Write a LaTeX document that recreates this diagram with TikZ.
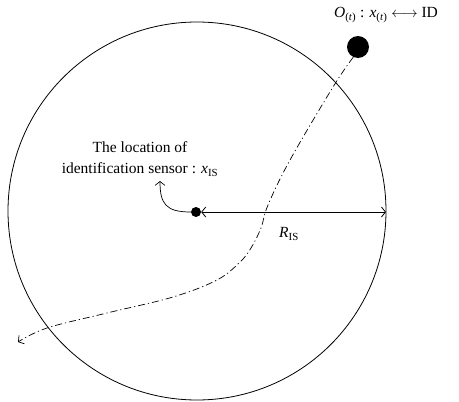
\documentclass[tikz,border=0pt]{standalone}
\usepackage{fontspec}
\setmainfont{Liberation Serif}
\usetikzlibrary{arrows.meta,positioning}
\newcommand{\vsub}[2]{\textit{#1}\textsubscript{#2}}

\begin{document}
\begin{tikzpicture}[x=1pt,y=-1pt,font=\fontsize{15.5}{21}\selectfont,
  barb/.style={-{Straight Barb[length=4pt,width=10pt]}},
  bothbarb/.style={{Straight Barb[length=4pt,width=10pt]}-{Straight Barb[length=4pt,width=10pt]}},
  track/.style={dash pattern=on 7pt off 3pt on 1.2pt off 3pt}]
\useasboundingbox(0,0)rectangle(459,402);
% sensing area
\draw[line width=0.8pt](197,211)circle(189pt);
\node[circle,fill,inner sep=0pt,minimum size=10pt](sensor)at(196,212){};
\coordinate(rim)at(386,212);
\draw[line width=0.8pt,bothbarb](sensor)--(rim);
\node(rlabel)at(289,234){\vsub{R}{IS}};
% moving object
\node[circle,fill,inner sep=0pt,minimum size=22pt](target)at(358,47){};
\node(idlabel)at(386,15){\vsub{O}{(\textit{t})} : \vsub{x}{(\textit{t})} $\longleftrightarrow$ ID};
\coordinate(exit)at(18,342);
\draw[line width=0.7pt,track,barb]plot[smooth,tension=0.6]coordinates
  {(target.245)(333,87)(290,160)(268,205)(261,228)(251,248)(240,262)
   (217,280)(173,297)(107,313)(47,328)(exit)};
% sensor label
\node[align=center](loclabel)at(140,159){The location of\\identification sensor : \vsub{x}{IS}};
\coordinate(pointer)at(160,181);
\draw[line width=0.7pt,barb](sensor.west)..controls(166,212)and(160,204)..(pointer);
\end{tikzpicture}
\end{document}
